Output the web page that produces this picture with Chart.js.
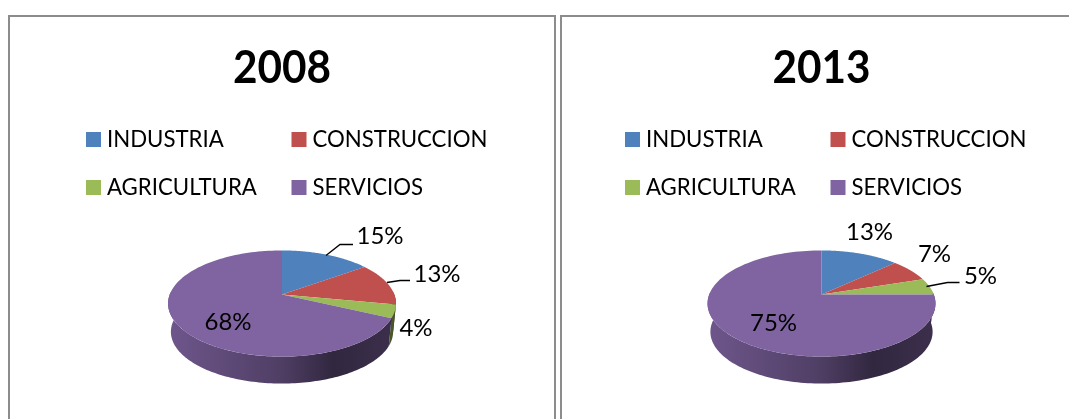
<!DOCTYPE html>
<html>
<head>
<meta charset="utf-8">
<script src="https://cdn.jsdelivr.net/npm/chart.js@4"></script>
<style>
html,body{margin:0;padding:0;background:#fff;overflow:hidden;width:1069px;height:419px}
.frame{position:absolute;top:15px;height:420px;border:2px solid #8c8c8c;box-sizing:border-box;filter:blur(.4px)}
canvas{position:absolute;top:0;filter:blur(.45px)}
</style>
</head>
<body>
<div class="frame" style="left:8px;width:548px"></div>
<div class="frame" style="left:560px;width:540px"></div>
<canvas id="c1" width="557" height="419" style="left:0"></canvas>
<canvas id="c2" width="512" height="419" style="left:557px"></canvas>
<script>
const categories = ['INDUSTRIA', 'CONSTRUCCION', 'AGRICULTURA', 'SERVICIOS'];
const values2008 = [15, 13, 4, 68];
const values2013 = [13, 7, 5, 75];
const colors = ['#4f81bd', '#c0504d', '#9bbb59', '#8064a2'];

// label placement: [centre x offset, centre y offset] from the pie centre
const labelPos2008 = [[98, -58], [155, -20], [134, 34], [-54, 28]];
const labelPos2013 = [[48, -62], [113, -40], [159, -18], [-48, 29]];
// leader lines, relative to the pie centre (null = none)
const leaders2008 = [[[44, -39], [58, -50], [71, -50]], [[105, -12], [118, -14], [128, -14]], null, null];
const leaders2013 = [null, null, [[105, -8], [126, -12], [138, -12]], null];

const FONT = 'Lato, Carlito, sans-serif';
const PERSP = 0.17, SQUASH = 0.459, DEPTH = 28.5, SHRINK = 0.975;

function proj(el, th, lower) {
  const a = el.outerRadius, b = a * SQUASH, s = lower ? SHRINK : 1;
  const u = Math.cos(th), v = Math.sin(th), d = 1 - PERSP * v;
  return [el.x + s * a * u / d, el.y + (lower ? DEPTH : 0) + s * b * v / d];
}
function shade(hex, f) {
  const n = parseInt(hex.slice(1), 16);
  return `rgb(${((n >> 16) & 255) * f | 0},${((n >> 8) & 255) * f | 0},${(n & 255) * f | 0})`;
}
function squeezedText(ctx, text, x, y, sx) {
  ctx.save();
  ctx.translate(x, y);
  ctx.scale(sx, 1);
  ctx.fillText(text, 0, 0);
  ctx.restore();
}
const pie3d = {
  id: 'pie3d',
  beforeDatasetsDraw(chart) {
    const ctx = chart.ctx, arcs = chart.getDatasetMeta(0).data;
    const N = 120;
    arcs.forEach((el, i) => {           // side walls
      const s = Math.max(el.startAngle, -0.05), e = Math.min(el.endAngle, Math.PI + 0.05);
      if (e <= s) return;
      ctx.beginPath();
      for (let k = 0; k <= N; k++) { const p = proj(el, s + (e - s) * k / N, false); k ? ctx.lineTo(p[0], p[1]) : ctx.moveTo(p[0], p[1]); }
      for (let k = N; k >= 0; k--) { const p = proj(el, s + (e - s) * k / N, true); ctx.lineTo(p[0], p[1]); }
      ctx.closePath();
      const R = el.outerRadius;
      const g = ctx.createLinearGradient(el.x - R, 0, el.x + R, 0);
      const c = chart.data.datasets[0].backgroundColor[i];
      g.addColorStop(0, shade(c, 0.86));
      g.addColorStop(0.5, shade(c, 0.62));
      g.addColorStop(0.73, shade(c, 0.39));
      g.addColorStop(1, shade(c, 0.47));
      ctx.fillStyle = g;
      ctx.fill();
    });
    arcs.forEach((el, i) => {           // top faces
      const s = el.startAngle, e = el.endAngle;
      ctx.beginPath();
      ctx.moveTo(el.x, el.y);
      for (let k = 0; k <= N; k++) { const p = proj(el, s + (e - s) * k / N, false); ctx.lineTo(p[0], p[1]); }
      ctx.closePath();
      ctx.fillStyle = chart.data.datasets[0].backgroundColor[i];
      ctx.fill();
    });
    return false;
  },
  afterDraw(chart, args, opts) {
    const ctx = chart.ctx, el0 = chart.getDatasetMeta(0).data[0], ds = chart.data.datasets[0];
    ctx.save();
    ctx.strokeStyle = '#000'; ctx.lineWidth = 1.3;
    opts.leaders.forEach(l => {
      if (!l) return;
      ctx.beginPath();
      l.forEach((p, k) => k ? ctx.lineTo(el0.x + p[0], el0.y + p[1]) : ctx.moveTo(el0.x + p[0], el0.y + p[1]));
      ctx.stroke();
    });
    ctx.fillStyle = '#000';
    ctx.font = '24px ' + FONT;
    ctx.textAlign = 'center'; ctx.textBaseline = 'middle';
    ds.data.forEach((v, i) => squeezedText(ctx, v + '%', el0.x + opts.labels[i][0], el0.y + opts.labels[i][1], 1.0));
    ctx.restore();
  }
};
const legend2col = {
  id: 'legend2col',
  afterDraw(chart, args, opts) {
    const ctx = chart.ctx;
    ctx.save();
    ctx.font = '23.5px ' + FONT;
    ctx.textBaseline = 'middle'; ctx.textAlign = 'left';
    chart.data.labels.forEach((t, i) => {
      const x = opts.x + (i % 2) * opts.colGap, y = opts.y + (i >> 1) * opts.rowGap;
      ctx.fillStyle = chart.data.datasets[0].backgroundColor[i];
      ctx.fillRect(x, y - 7.5, 15, 15);
      ctx.fillStyle = '#000';
      squeezedText(ctx, t, x + 21, y, 0.945);
    });
    ctx.restore();
  }
};
function make(id, title, values, labels, leaders, padLeft, legX) {
  new Chart(document.getElementById(id), {
    type: 'pie',
    data: { labels: categories, datasets: [{ data: values, backgroundColor: colors, radius: 112.3, borderWidth: 0 }] },
    options: {
      responsive: false, animation: false,
      layout: { padding: { left: padLeft, right: 0, top: 170, bottom: 0 } },
      plugins: {
        legend: { display: false }, tooltip: { enabled: false },
        title: { display: false },
        pie3d: { labels, leaders },
        legend2col: { x: legX, y: 139.5, colGap: 205.5, rowGap: 48 },
        chartTitle: { text: title }
      }
    },
    plugins: [pie3d, legend2col, {
      id: 'chartTitle',
      afterDraw(chart, args, opts) {
        const ctx = chart.ctx;
        ctx.save();
        ctx.font = 'bold 46px ' + FONT;
        ctx.fillStyle = '#000'; ctx.textAlign = 'center'; ctx.textBaseline = 'middle';
        squeezedText(ctx, opts.text, chart.getDatasetMeta(0).data[0].x, 68, 0.92);
        ctx.restore();
      }
    }]
  });
}
make('c1', '2008', values2008, labelPos2008, leaders2008, 7, 86);
make('c2', '2013', values2013, labelPos2013, leaders2013, 17, 68);
</script>
</body>
</html>
